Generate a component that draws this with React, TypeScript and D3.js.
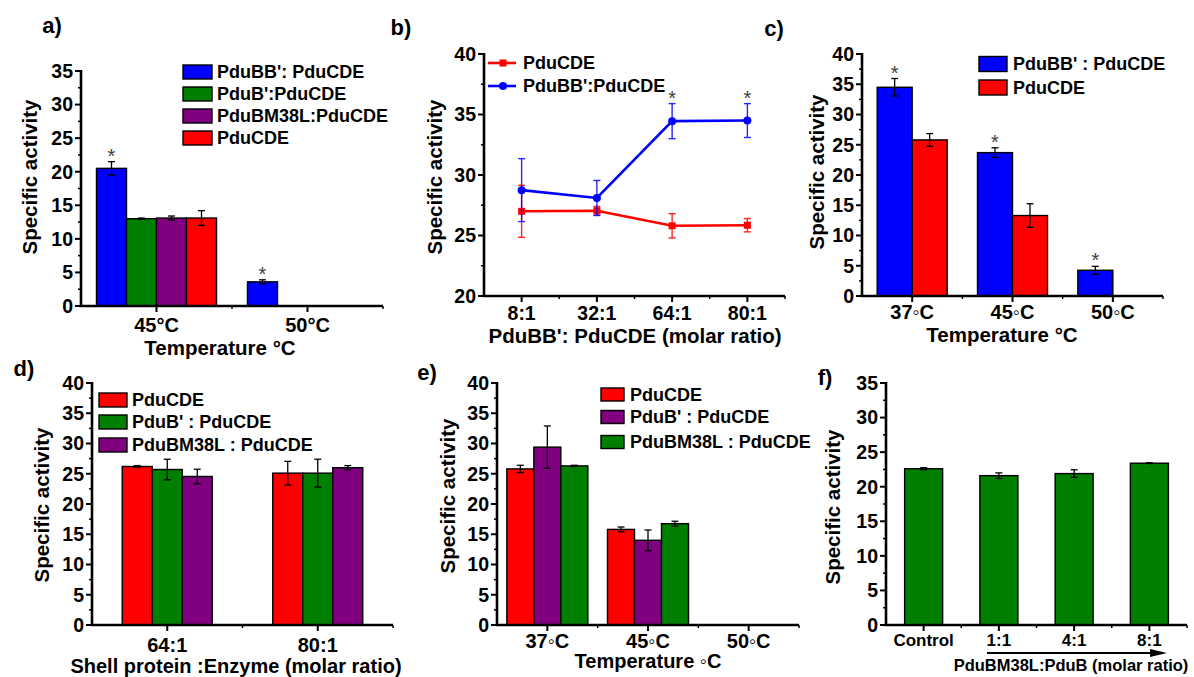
import React from "react";
import * as d3 from "d3";

// ---------- DATA ----------
// Panel a
const aCategories = ["45°C", "50°C"];
const aSeries = ["PduBB': PduCDE", "PduB':PduCDE", "PduBM38L:PduCDE", "PduCDE"];
const aValues = [[20.5, 3.6], [13.0, 0], [13.1, 0], [13.1, 0]];
const aErrors = [[1.0, 0.3], [0.1, 0], [0.3, 0], [1.1, 0]];
const aStars = [[0, 0], [0, 1]];

// Panel b
const bCategories = ["8:1", "32:1", "64:1", "80:1"];
const bSeries = ["PduCDE", "PduBB':PduCDE"];
const bValues = [[27.0, 27.05, 25.8, 25.85], [28.75, 28.1, 34.45, 34.5]];
const bErrors = [[2.15, 0.35, 1.0, 0.55], [2.6, 1.45, 1.45, 1.4]];
const bStars = [[1, 2], [1, 3]];

// Panel c
const cCategories = ["37◦C", "45◦C", "50◦C"];
const cSeries = ["PduBB' : PduCDE", "PduCDE"];
const cValues = [[34.5, 23.7, 4.25], [25.8, 13.3, 0]];
const cErrors = [[1.45, 0.8, 0.65], [1.05, 1.95, 0]];
const cStars = [[0, 0], [0, 1], [0, 2]];

// Panel d
const dCategories = ["64:1", "80:1"];
const dSeries = ["PduCDE", "PduB' : PduCDE", "PduBM38L : PduCDE"];
const dValues = [[26.2, 25.1], [25.7, 25.1], [24.55, 26.0]];
const dErrors = [[0.15, 1.95], [1.7, 2.3], [1.2, 0.35]];

// Panel e
const eCategories = ["37◦C", "45◦C", "50◦C"];
const eSeries = ["PduCDE", "PduB' : PduCDE", "PduBM38L : PduCDE"];
const eValues = [[25.8, 15.8, 0], [29.4, 14.0, 0], [26.3, 16.75, 0]];
const eErrors = [[0.6, 0.4, 0], [3.5, 1.7, 0], [0.1, 0.4, 0]];

// Panel f
const fCategories = ["Control", "1:1", "4:1", "8:1"];
const fSeries = ["PduBM38L:PduB"];
const fValues = [[22.6, 21.6, 21.9, 23.4]];
const fErrors = [[0.15, 0.4, 0.55, 0.06]];

// ---------- STYLE ----------
const FONT = "'Liberation Sans', Arial, Helvetica, sans-serif";
const BLUE = "#0000ff";
const GREEN = "#007f00";
const PURPLE = "#800080";
const RED = "#ff0000";
const STAR = "#404040";

type Legend = { x: number; textX: number; rows: number[]; w: number; h: number };

type BarCfg = {
  left: number; right: number; bottom: number; top: number; yMax: number;
  categories: string[]; series: string[]; values: number[][]; errors: number[][];
  colors: string[]; barW: number; stars?: number[][];
  legend: Legend | null;
  label: string; labelPos: [number, number];
  yTitlePos: [number, number];
  xTitle: string; xTitlePos: [number, number]; xTitleSize: number;
  tickY: number; tickSize: number;
};

function YAxis({ y, left, yMax, step }: { y: d3.ScaleLinear<number, number>; left: number; yMax: number; step: number }) {
  const major = d3.range(0, yMax + 0.001, step);
  const minor = d3.range(step / 2, yMax, step);
  return (
    <g>
      <line x1={left} x2={left} y1={y(0) + 1} y2={y(yMax) - 1} stroke="#000" strokeWidth={2.6} />
      {major.map((t) => (
        <g key={"M" + t}>
          <line x1={left - 6} x2={left} y1={y(t)} y2={y(t)} stroke="#000" strokeWidth={2} />
          <text x={left - 8} y={y(t)} dy="0.35em" textAnchor="end" fontSize={19.5} fontWeight="bold" fontFamily={FONT}>{t}</text>
        </g>
      ))}
      {minor.map((t) => (
        <line key={"m" + t} x1={left - 3} x2={left} y1={y(t)} y2={y(t)} stroke="#000" strokeWidth={1.5} />
      ))}
    </g>
  );
}

function XAxis({ x, bottom, left, right }: { x: d3.ScaleBand<string>; bottom: number; left: number; right: number }) {
  const cats = x.domain();
  const bounds = cats.slice(1).map((c) => x(c) as number);
  return (
    <g>
      <line x1={left - 1.3} x2={right} y1={bottom} y2={bottom} stroke="#000" strokeWidth={2.6} />
      {cats.map((c) => {
        const cx = (x(c) as number) + x.bandwidth() / 2;
        return <line key={c} x1={cx} x2={cx} y1={bottom} y2={bottom + 6} stroke="#000" strokeWidth={2} />;
      })}
      {bounds.concat([right]).map((b, i) => (
        <line key={"b" + i} x1={b} x2={b} y1={bottom} y2={bottom + 3} stroke="#000" strokeWidth={1.5} />
      ))}
    </g>
  );
}

function Common({ cfg, y, x }: { cfg: BarCfg; y: d3.ScaleLinear<number, number>; x: d3.ScaleBand<string> }) {
  return (
    <g fontFamily={FONT} fontWeight="bold">
      <text x={cfg.labelPos[0]} y={cfg.labelPos[1]} dy="0.35em" textAnchor="middle" fontSize={22}>{cfg.label}</text>
      <text transform={`translate(${cfg.yTitlePos[0]},${cfg.yTitlePos[1]}) rotate(-90)`} dy="0.35em" textAnchor="middle" fontSize={20.5}>Specific activity</text>
      <text x={cfg.xTitlePos[0]} y={cfg.xTitlePos[1]} dy="0.35em" textAnchor="middle" fontSize={cfg.xTitleSize}>{cfg.xTitle}</text>
      {x.domain().map((c) => (
        <text key={c} x={(x(c) as number) + x.bandwidth() / 2} y={cfg.tickY} dy="0.35em" textAnchor="middle" fontSize={cfg.tickSize}>{c}</text>
      ))}
    </g>
  );
}

function BarPanel({ cfg }: { cfg: BarCfg }) {
  const x = d3.scaleBand<string>().domain(cfg.categories).range([cfg.left, cfg.right]);
  const y = d3.scaleLinear().domain([0, cfg.yMax]).range([cfg.bottom, cfg.top]);
  const gw = cfg.barW * cfg.series.length;
  const xs = d3.scaleBand<number>().domain(d3.range(cfg.series.length)).range([-gw / 2, gw / 2]);
  return (
    <g>
      {cfg.series.map((s, si) =>
        cfg.categories.map((c, ci) => {
          const v = cfg.values[si][ci];
          if (!v) return null;
          const bx = (x(c) as number) + x.bandwidth() / 2 + (xs(si) as number);
          return (
            <rect key={s + c} x={bx} width={xs.bandwidth()} y={y(v)} height={y(0) - y(v)}
              fill={cfg.colors[si]} stroke="#000" strokeWidth={1.4} />
          );
        })
      )}
      {cfg.series.map((s, si) =>
        cfg.categories.map((c, ci) => {
          const v = cfg.values[si][ci];
          const e = cfg.errors[si][ci];
          if (!v) return null;
          const cx = (x(c) as number) + x.bandwidth() / 2 + (xs(si) as number) + xs.bandwidth() / 2;
          return (
            <g key={"e" + s + c} stroke="#000" strokeWidth={1.3}>
              <line x1={cx} x2={cx} y1={y(v + e)} y2={y(v - e)} />
              <line x1={cx - 3.5} x2={cx + 3.5} y1={y(v + e)} y2={y(v + e)} />
              <line x1={cx - 3.5} x2={cx + 3.5} y1={y(v - e)} y2={y(v - e)} />
            </g>
          );
        })
      )}
      {(cfg.stars || []).map(([si, ci]) => {
        const c = cfg.categories[ci];
        const cx = (x(c) as number) + x.bandwidth() / 2 + (xs(si) as number) + xs.bandwidth() / 2;
        const v = cfg.values[si][ci] + cfg.errors[si][ci];
        return (
          <text key={"s" + si + ci} x={cx} y={y(v) + 1} textAnchor="middle" fontSize={20} fontFamily={FONT} fill={STAR}>*</text>
        );
      })}
      <YAxis y={y} left={cfg.left} yMax={cfg.yMax} step={5} />
      <XAxis x={x} bottom={cfg.bottom} left={cfg.left} right={cfg.right} />
      <Common cfg={cfg} y={y} x={x} />
      {cfg.legend && (
        <g fontFamily={FONT} fontWeight="bold" fontSize={18}>
          {cfg.series.map((s, si) => (
            <g key={"l" + s}>
              <rect x={cfg.legend!.x} y={cfg.legend!.rows[si] - cfg.legend!.h / 2} width={cfg.legend!.w} height={cfg.legend!.h}
                fill={cfg.colors[si]} stroke="#000" strokeWidth={1.4} />
              <text x={cfg.legend!.textX} y={cfg.legend!.rows[si]} dy="0.36em">{s}</text>
            </g>
          ))}
        </g>
      )}
    </g>
  );
}

function LinePanel() {
  const left = 484, right = 785, bottom = 296, top = 54;
  const x = d3.scaleBand<string>().domain(bCategories).range([left, right]);
  const y = d3.scaleLinear().domain([20, 40]).range([bottom, top]);
  const colors = [RED, BLUE];
  const cx = (c: string) => (x(c) as number) + x.bandwidth() / 2;
  const line = d3.line<number>().x((_, i) => cx(bCategories[i])).y((v) => y(v));
  const legRows = [63, 86];
  const major = d3.range(20, 40.001, 5);
  const minor = d3.range(22.5, 40, 5);
  const cfg: any = {
    label: "b)", labelPos: [401, 27], yTitlePos: [435, 177],
    xTitle: "PduBB': PduCDE (molar ratio)", xTitlePos: [635, 336], xTitleSize: 20.5,
    tickY: 313, tickSize: 19.5,
  };
  return (
    <g>
      {bSeries.map((s, si) => (
        <g key={s}>
          <path d={line(bValues[si]) as string} fill="none" stroke={colors[si]} strokeWidth={2.6} />
          {bValues[si].map((v, i) => {
            const e = bErrors[si][i];
            const px = cx(bCategories[i]);
            return (
              <g key={i} stroke={colors[si]} strokeWidth={1.4} opacity={0.85}>
                <line x1={px} x2={px} y1={y(v + e)} y2={y(v - e)} />
                <line x1={px - 3.5} x2={px + 3.5} y1={y(v + e)} y2={y(v + e)} />
                <line x1={px - 3.5} x2={px + 3.5} y1={y(v - e)} y2={y(v - e)} />
              </g>
            );
          })}
          {bValues[si].map((v, i) => {
            const px = cx(bCategories[i]);
            return si === 0 ? (
              <rect key={"m" + i} x={px - 3.5} y={y(v) - 3.5} width={7} height={7} fill={RED} />
            ) : (
              <circle key={"m" + i} cx={px} cy={y(v)} r={4} fill={BLUE} />
            );
          })}
        </g>
      ))}
      {bStars.map(([si, ci]) => (
        <text key={"s" + ci} x={cx(bCategories[ci])} y={y(bValues[si][ci] + bErrors[si][ci]) + 1} textAnchor="middle"
          fontSize={20} fontFamily={FONT} fill={STAR}>*</text>
      ))}
      <line x1={left} x2={left} y1={bottom + 1} y2={top - 1} stroke="#000" strokeWidth={2.6} />
      {major.map((t) => (
        <g key={"M" + t}>
          <line x1={left - 6} x2={left} y1={y(t)} y2={y(t)} stroke="#000" strokeWidth={2} />
          <text x={left - 8} y={y(t)} dy="0.35em" textAnchor="end" fontSize={19.5} fontWeight="bold" fontFamily={FONT}>{t}</text>
        </g>
      ))}
      {minor.map((t) => (
        <line key={"m" + t} x1={left - 3} x2={left} y1={y(t)} y2={y(t)} stroke="#000" strokeWidth={1.5} />
      ))}
      <XAxis x={x} bottom={bottom} left={left} right={right} />
      <Common cfg={cfg} y={y} x={x} />
      <g fontFamily={FONT} fontWeight="bold" fontSize={18}>
        {bSeries.map((s, si) => (
          <g key={"l" + s}>
            <line x1={488} x2={516} y1={legRows[si]} y2={legRows[si]} stroke={colors[si]} strokeWidth={2.6} />
            {si === 0 ? (
              <rect x={503 - 3.5} y={legRows[si] - 3.5} width={7} height={7} fill={RED} />
            ) : (
              <circle cx={503} cy={legRows[si]} r={4} fill={BLUE} />
            )}
            <text x={523} y={legRows[si]} dy="0.36em">{s}</text>
          </g>
        ))}
      </g>
    </g>
  );
}

const aCfg: BarCfg = {
  left: 81, right: 383, bottom: 306, top: 71, yMax: 35,
  categories: aCategories, series: aSeries, values: aValues, errors: aErrors,
  colors: [BLUE, GREEN, PURPLE, RED], barW: 30, stars: aStars,
  legend: { x: 183, textX: 217, rows: [72, 94, 116, 138], w: 29, h: 14 },
  label: "a)", labelPos: [52, 25], yTitlePos: [30, 177],
  xTitle: "Temperature °C", xTitlePos: [220, 348], xTitleSize: 20.5,
  tickY: 325, tickSize: 20,
};

const cCfg: BarCfg = {
  left: 862, right: 1163, bottom: 296, top: 54, yMax: 40,
  categories: cCategories, series: cSeries, values: cValues, errors: cErrors,
  colors: [BLUE, RED], barW: 35, stars: cStars,
  legend: { x: 979, textX: 1013, rows: [64, 87.5], w: 28, h: 15 },
  label: "c)", labelPos: [774, 28], yTitlePos: [817, 172],
  xTitle: "Temperature °C", xTitlePos: [1002, 335], xTitleSize: 20.5,
  tickY: 312, tickSize: 20,
};

const dCfg: BarCfg = {
  left: 92, right: 393, bottom: 625, top: 383, yMax: 40,
  categories: dCategories, series: dSeries, values: dValues, errors: dErrors,
  colors: [RED, GREEN, PURPLE], barW: 30,
  legend: { x: 99, textX: 132, rows: [400, 422, 445], w: 28, h: 14 },
  label: "d)", labelPos: [24, 368], yTitlePos: [42, 505],
  xTitle: "Shell protein :Enzyme (molar ratio)", xTitlePos: [236, 666], xTitleSize: 20,
  tickY: 645, tickSize: 20,
};

const eCfg: BarCfg = {
  left: 497, right: 799, bottom: 625, top: 383, yMax: 40,
  categories: eCategories, series: eSeries, values: eValues, errors: eErrors,
  colors: [RED, PURPLE, GREEN], barW: 27,
  legend: { x: 601, textX: 630, rows: [394.5, 417, 442], w: 23, h: 13 },
  label: "e)", labelPos: [427, 372], yTitlePos: [448, 496],
  xTitle: "Temperature ◦C", xTitlePos: [648, 661], xTitleSize: 20,
  tickY: 641, tickSize: 20,
};

const fCfg: BarCfg = {
  left: 886, right: 1187, bottom: 625, top: 383, yMax: 35,
  categories: fCategories, series: fSeries, values: fValues, errors: fErrors,
  colors: [GREEN], barW: 38,
  legend: null,
  label: "f)", labelPos: [825, 377], yTitlePos: [833, 507],
  xTitle: "PduBM38L:PduB (molar ratio)", xTitlePos: [1071, 665], xTitleSize: 16.5,
  tickY: 640, tickSize: 17,
};

export default function App() {
  return (
    <svg width={1194} height={677} style={{ position: "absolute", left: 0, top: 0, background: "#fff" }}>
      <rect x={0} y={0} width={1194} height={677} fill="#fff" />
      <BarPanel cfg={aCfg} />
      <LinePanel />
      <BarPanel cfg={cCfg} />
      <BarPanel cfg={dCfg} />
      <BarPanel cfg={eCfg} />
      <BarPanel cfg={fCfg} />
      <g>
        <line x1={987} x2={1152} y1={653} y2={653} stroke="#000" strokeWidth={2.2} />
        <path d="M1150,649 L1167,653 L1150,657 Z" fill="#000" />
      </g>
    </svg>
  );
}
